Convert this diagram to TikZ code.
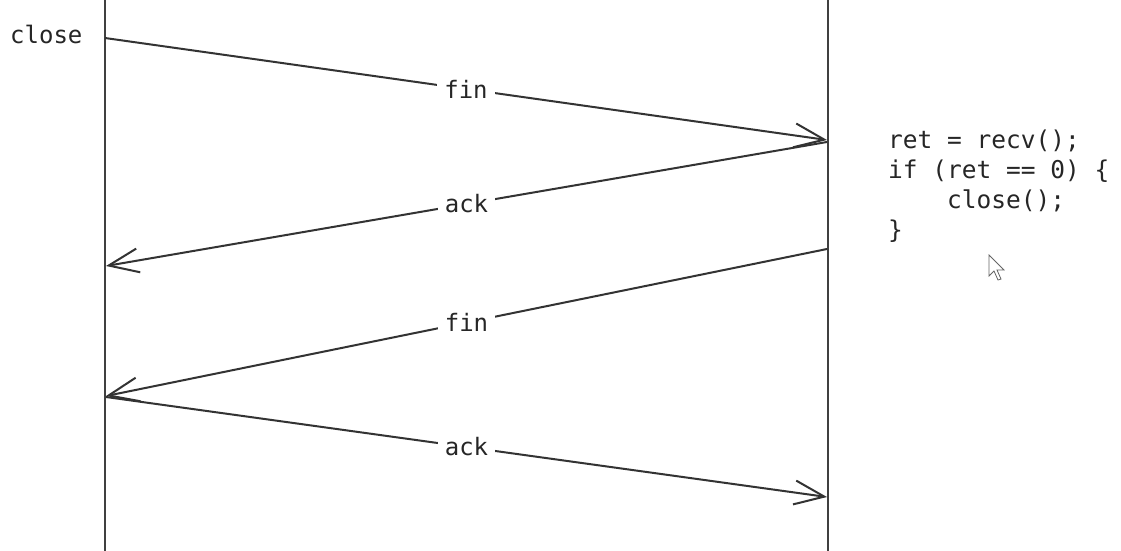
\documentclass[tikz,border=0pt]{standalone}
\usepackage{fontspec}
\setmonofont{DejaVu Sans Mono}
\usetikzlibrary{arrows.meta}
\begin{document}
\begin{tikzpicture}[x=1pt,y=-1pt,
  life/.style={draw=black!75,line width=2pt},
  msg/.style={draw=black!80,line width=2pt,-{Straight Barb[length=30pt,width=24pt,line width=2pt]}},
  lbl/.style={fill=white,inner xsep=7pt,inner ysep=3pt,font=\fontsize{24}{28}\selectfont\ttfamily,text=black!85},
  code/.style={align=left,anchor=north west,inner sep=0pt,font=\fontsize{24.5}{30}\selectfont\ttfamily,text=black!85}]
\useasboundingbox (0,0) rectangle (1121,551);
\fill[white] (0,0) rectangle (1121,551);
% lifelines
\coordinate (Ltop) at (105,0);
\coordinate (Lbot) at (105,551);
\coordinate (Rtop) at (828,0);
\coordinate (Rbot) at (828,551);
\draw[life] (Ltop) -- (Lbot);
\draw[life] (Rtop) -- (Rbot);
% endpoints
\coordinate (a1) at (105,38);
\coordinate (b1) at (827,140);
\coordinate (a2) at (827,142);
\coordinate (b2) at (106,266);
\coordinate (a3) at (827,249);
\coordinate (b3) at (106,396);
\coordinate (a4) at (106,397);
\coordinate (b4) at (827,497);
\draw[msg] (a1) -- node[lbl] (l1) {fin} (b1);
\draw[msg] (a2) -- node[lbl] (l2) {ack} (b2);
\draw[msg] (a3) -- node[lbl] (l3) {fin} (b3);
\draw[msg] (a4) -- node[lbl] (l4) {ack} (b4);
% texts
\node[lbl,fill=none,anchor=west,inner sep=0pt] (close) at (10,34) {close};
\node[code] (codeblk) at (888,130) {ret = recv();\\if (ret == 0) \{\\\ \ \ \ close();\\\}};
% cursor
\draw[black!60,line width=0.8pt,fill=white] (989,255) -- (989,276) -- (994,271) -- (998,280) -- (1001,279) -- (997,270) -- (1004,270) -- cycle;
\end{tikzpicture}
\end{document}
